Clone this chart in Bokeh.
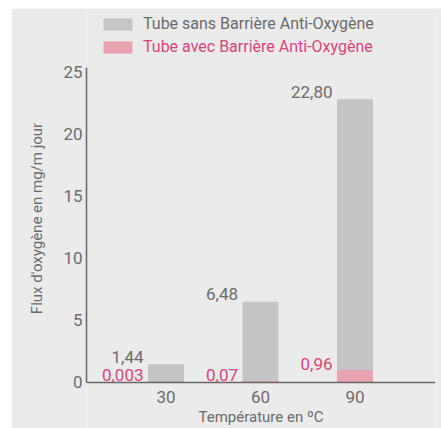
from bokeh.plotting import figure
from bokeh.embed import file_html
from bokeh.resources import INLINE
from bokeh.models import ColumnDataSource, Legend, LegendItem, FixedTicker, Range1d, Spacer
from bokeh.layouts import column, row
from bokeh.core.properties import value

temperatures = [30, 60, 90]
sans_barriere = [1.44, 6.48, 22.80]
avec_barriere = [0.003, 0.07, 0.96]
sans_labels = ["1,44", "6,48", "22,80"]
avec_labels = ["0,003", "0,07", "0,96"]
y_ticks = [0, 5, 10, 15, 20, 25]
x_ticks = [30, 60, 90]

FONT = "Roboto"
FS = "17px"
GRAY_TXT = "#6b6b6b"
PINK_TXT = "#d8457b"
GRAY_BAR = "#c4c5c7"
PINK_BAR = "#e8a2b2"
BG = "#ebebeb"
BAR_W = 11.1

src = ColumnDataSource(dict(
    x=temperatures, sans=sans_barriere, avec=avec_barriere,
    left=[t - BAR_W / 2 for t in temperatures],
    sl=sans_labels, al=avec_labels,
))

p = figure(width=430, height=420, output_backend="svg", toolbar_location=None,
           x_range=Range1d(4.76, 115.56), y_range=Range1d(-3.71, 30.16),
           min_border_left=75, min_border_right=6, min_border_top=0, min_border_bottom=0)
p.background_fill_color = BG
p.border_fill_color = BG
p.outline_line_color = None
p.grid.grid_line_color = None

r1 = p.vbar(x="x", top="sans", width=BAR_W, bottom=0, source=src, color=GRAY_BAR)
r2 = p.vbar(x="x", top="avec", width=BAR_W, bottom=0, source=src, color=PINK_BAR)

p.text(x="left", y="sans", text="sl", source=src, x_offset=-5, y_offset=-2,
       text_align="right", text_baseline="bottom", text_color=GRAY_TXT,
       text_font=value(FONT), text_font_size=FS)
p.text(x="left", y="avec", text="al", source=src, x_offset=-5, y_offset=-1,
       text_align="right", text_baseline="bottom", text_color=PINK_TXT,
       text_font=value(FONT), text_font_size=FS)

for ax in (p.xaxis[0], p.yaxis[0]):
    ax.axis_line_color = "#666666"
    ax.axis_line_width = 1.5
    ax.major_tick_line_color = None
    ax.minor_tick_line_color = None
    ax.major_tick_out = 0
    ax.major_tick_in = 0
    ax.major_label_text_font = FONT
    ax.major_label_text_font_size = FS
    ax.major_label_text_color = GRAY_TXT
    ax.axis_label_text_font = FONT
    ax.axis_label_text_font_size = "15px"
    ax.axis_label_text_color = GRAY_TXT
    ax.axis_label_text_font_style = "normal"

p.yaxis.ticker = FixedTicker(ticks=y_ticks)
p.xaxis.ticker = FixedTicker(ticks=x_ticks)
p.yaxis.bounds = (0, 25.4)
p.xaxis.fixed_location = 0
p.yaxis.axis_label = "Flux d'oxygène en mg/m jour"
p.xaxis.axis_label = "Température en ºC"
p.yaxis.major_label_standoff = 4
p.xaxis.major_label_standoff = 9
p.yaxis.axis_label_standoff = 14
p.xaxis.axis_label_standoff = 1

for item_label, rend, col, vy in [("Tube sans Barrière Anti-Oxygène", r1, GRAY_TXT, 395),
                                   ("Tube avec Barrière Anti-Oxygène", r2, PINK_TXT, 372)]:
    lg = Legend(items=[LegendItem(label=item_label, renderers=[rend])],
                location=(14, vy), glyph_width=35, glyph_height=14, label_height=14,
                label_standoff=8, padding=0, margin=0, spacing=0,
                border_line_color=None, background_fill_alpha=0,
                label_text_font=FONT, label_text_font_size="16px",
                label_text_color=col)
    p.add_layout(lg, "center")

layout = column(Spacer(height=8), row(Spacer(width=11), p))
open("out.html", "w").write(file_html(layout, INLINE))
